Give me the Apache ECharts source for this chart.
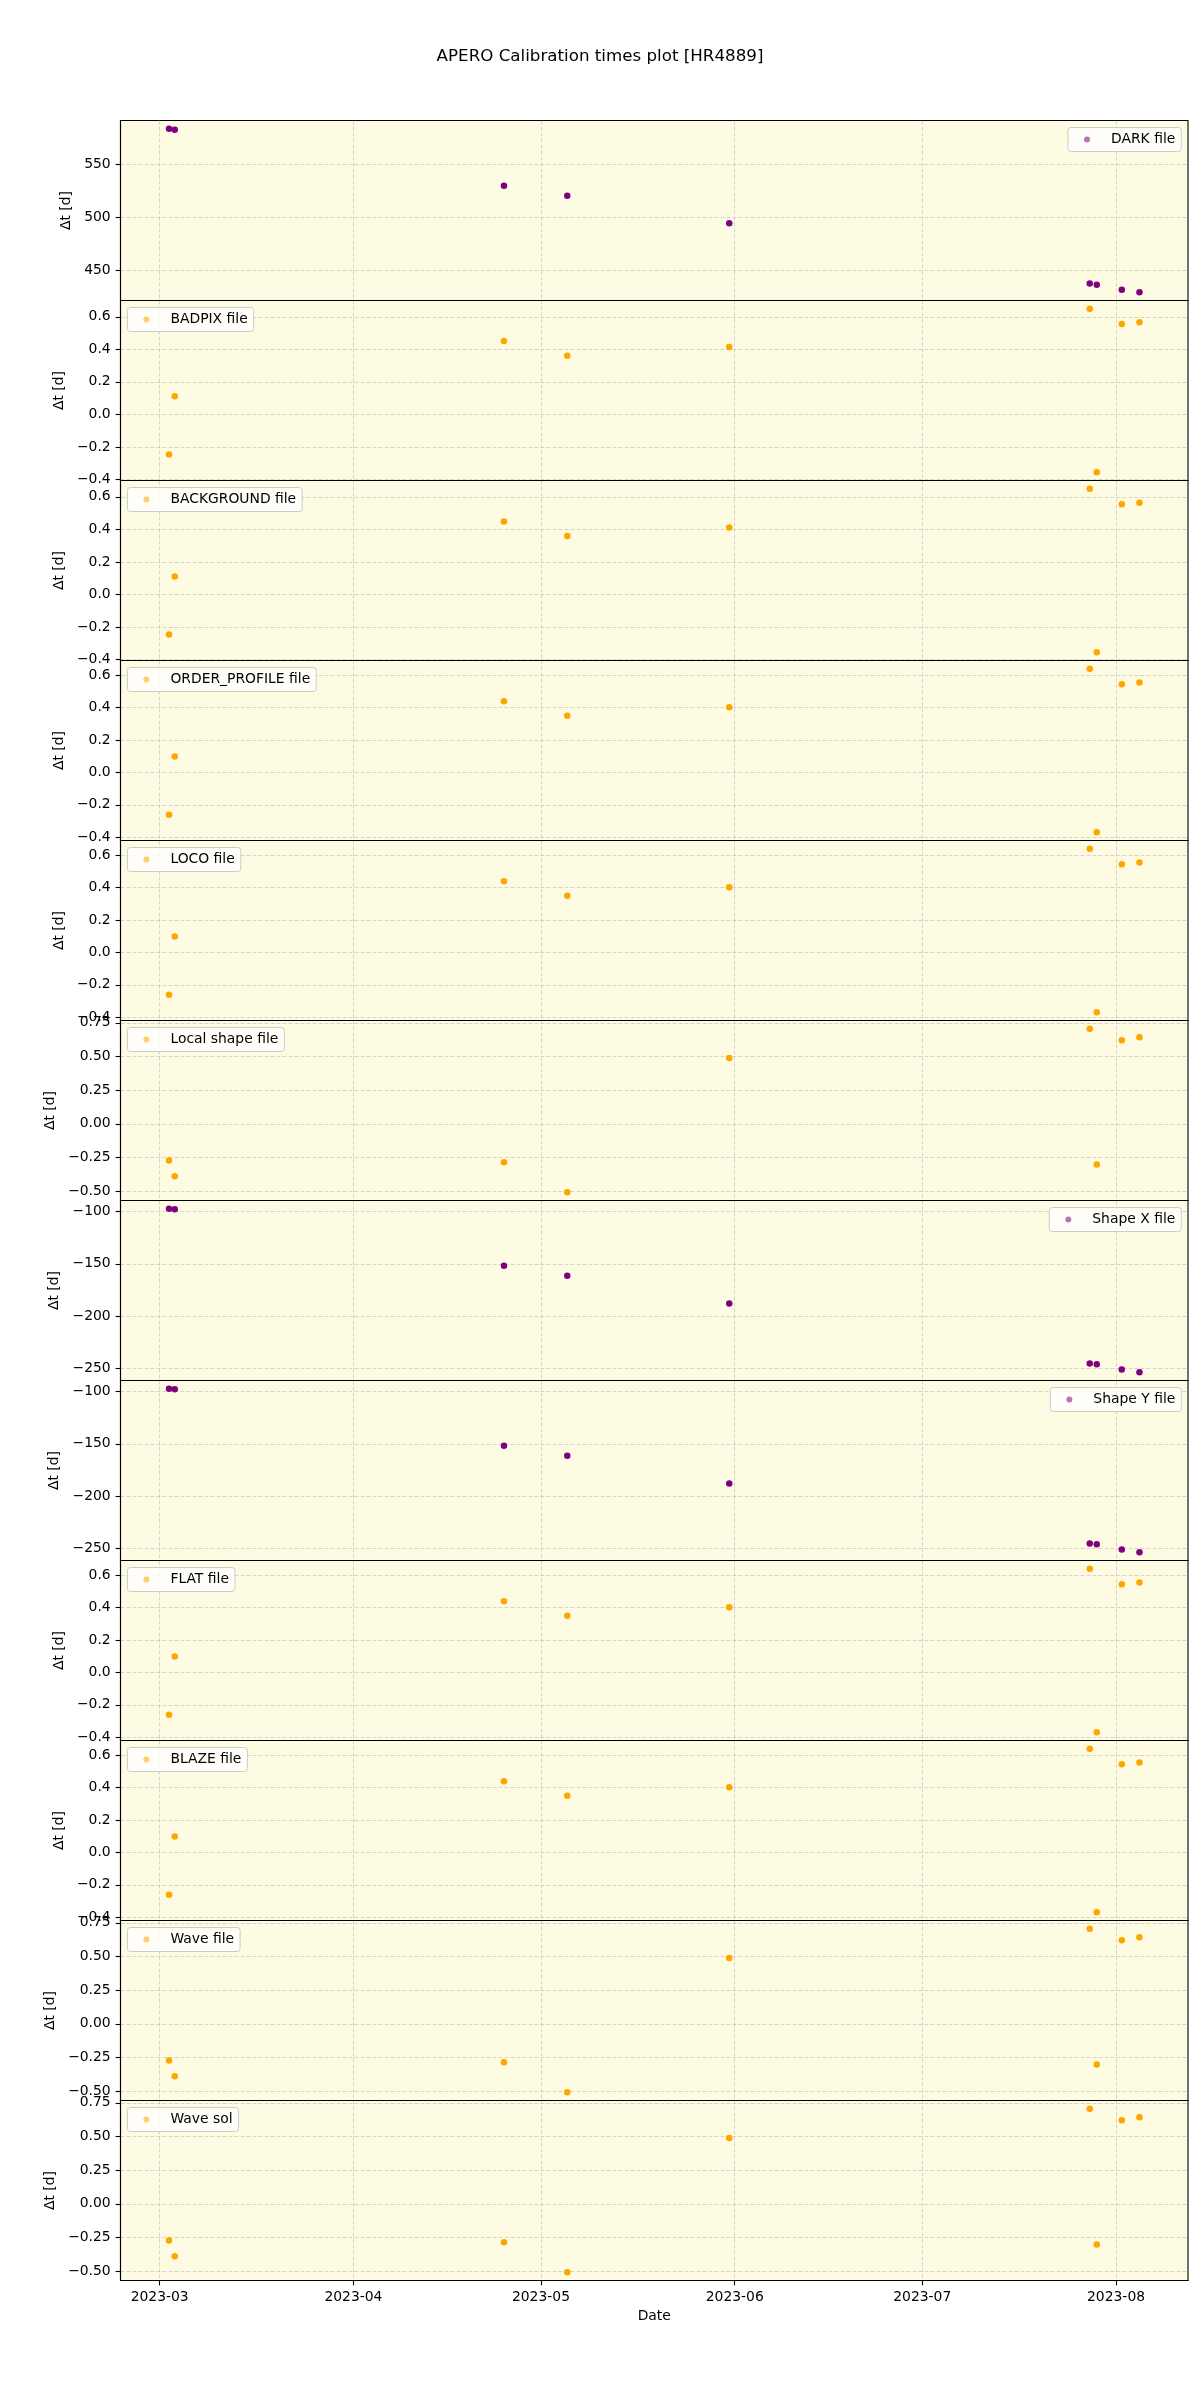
<!DOCTYPE html>
<html><head><meta charset="utf-8">
<script src="https://cdn.jsdelivr.net/npm/echarts@6/dist/echarts.min.js"></script>
<style>html,body{margin:0;padding:0;background:#fff}#c{width:1200px;height:2400px}</style>
</head><body><div id="c"></div><script>
// ---- data ----
const obsDates = ['2023-03-02T12:00','2023-03-03T10:00','2023-04-25T02:00','2023-05-05T05:00','2023-05-31T03:00','2023-07-27T19:00','2023-07-28T22:00','2023-08-01T22:00','2023-08-04T18:00'];
const darkFile = [584.2, 583.2, 530.1, 520.6, 494.3, 437.1, 436.1, 431.3, 428.8];
const badpixFile = [-0.247, 0.111, 0.451, 0.360, 0.414, 0.650, -0.356, 0.556, 0.566];
const backgroundFile = [-0.246, 0.111, 0.449, 0.360, 0.412, 0.650, -0.355, 0.554, 0.564];
const orderProfileFile = [-0.262, 0.099, 0.440, 0.350, 0.402, 0.641, -0.370, 0.545, 0.555];
const locoFile = [-0.262, 0.099, 0.440, 0.350, 0.402, 0.641, -0.370, 0.545, 0.555];
const localShapeFile = [-0.272, -0.389, -0.285, -0.508, 0.488, 0.706, -0.302, 0.620, 0.643];
const shapeXFile = [-97.5, -98.1, -151.9, -161.4, -187.9, -244.9, -245.8, -250.6, -253.4];
const shapeYFile = [-97.5, -98.1, -151.9, -161.4, -187.9, -244.9, -245.8, -250.6, -253.4];
const flatFile = [-0.262, 0.099, 0.440, 0.350, 0.402, 0.641, -0.370, 0.545, 0.555];
const blazeFile = [-0.262, 0.099, 0.440, 0.350, 0.402, 0.641, -0.370, 0.545, 0.555];
const waveFile = [-0.272, -0.389, -0.285, -0.508, 0.488, 0.706, -0.302, 0.620, 0.643];
const waveSol = [-0.272, -0.389, -0.285, -0.508, 0.488, 0.706, -0.302, 0.620, 0.643];

const monthTicks = ['2023-03-01T00:00','2023-04-01T00:00','2023-05-01T00:00','2023-06-01T00:00','2023-07-01T00:00','2023-08-01T00:00'];
const ticksDark = [450, 500, 550];
const ticksSmall = [-0.4, -0.2, 0.0, 0.2, 0.4, 0.6];
const ticksQuarter = [-0.5, -0.25, 0.0, 0.25, 0.5, 0.75];
const ticksShape = [-250, -200, -150, -100];

const titleText = 'APERO Calibration times plot [HR4889]';
const yName = 'Δt [d]';
const xName = 'Date';

// ---- styling / layout ----
const PURPLE = '#800080', ORANGE = '#FFA500';
const panels = [
  {name:'DARK file', data:darkFile, color:PURPLE, ticks:ticksDark, dec:0, side:'right', gap:46},
  {name:'BADPIX file', data:badpixFile, color:ORANGE, ticks:ticksSmall, dec:1, side:'left', gap:52},
  {name:'BACKGROUND file', data:backgroundFile, color:ORANGE, ticks:ticksSmall, dec:1, side:'left', gap:52},
  {name:'ORDER_PROFILE file', data:orderProfileFile, color:ORANGE, ticks:ticksSmall, dec:1, side:'left', gap:52},
  {name:'LOCO file', data:locoFile, color:ORANGE, ticks:ticksSmall, dec:1, side:'left', gap:52},
  {name:'Local shape file', data:localShapeFile, color:ORANGE, ticks:ticksQuarter, dec:2, side:'left', gap:61},
  {name:'Shape X file', data:shapeXFile, color:PURPLE, ticks:ticksShape, dec:0, side:'right', gap:56},
  {name:'Shape Y file', data:shapeYFile, color:PURPLE, ticks:ticksShape, dec:0, side:'right', gap:56},
  {name:'FLAT file', data:flatFile, color:ORANGE, ticks:ticksSmall, dec:1, side:'left', gap:52},
  {name:'BLAZE file', data:blazeFile, color:ORANGE, ticks:ticksSmall, dec:1, side:'left', gap:52},
  {name:'Wave file', data:waveFile, color:ORANGE, ticks:ticksQuarter, dec:2, side:'left', gap:61},
  {name:'Wave sol', data:waveSol, color:ORANGE, ticks:ticksQuarter, dec:2, side:'left', gap:61}
];
const FONT = 'DejaVu Sans';
const FS = 13.9;
const LEFT = 120.5, RIGHT = 1188, TOP0 = 120.5, PH = 180;

const ts = obsDates.map(s => new Date(s).getTime());
const monthTs = monthTicks.map(s => new Date(s).getTime());
const tMin = Math.min(...ts), tMax = Math.max(...ts);
const xLo = tMin - 0.05 * (tMax - tMin), xHi = tMax + 0.05 * (tMax - tMin);

const pad2 = n => (n < 10 ? '0' : '') + n;
const grid = [], xAxis = [], yAxis = [], series = [], legend = [];
const n = panels.length;
const splitStyle = {color: 'rgba(176,176,176,0.5)', type: [4, 2], width: 1};
panels.forEach((p, i) => {
  const top = TOP0 + i * PH;
  grid.push({left: LEFT, width: RIGHT - LEFT, top: top, height: PH, show: true,
    backgroundColor: '#FDFBE2', borderColor: '#000', borderWidth: 1.1, containLabel: false});
  const last = i === n - 1;
  xAxis.push({type: 'value', gridIndex: i, min: xLo, max: xHi, scale: true,
    name: last ? xName : '', nameLocation: 'middle', nameGap: 29,
    nameTextStyle: {fontFamily: FONT, fontSize: FS, color: '#000'},
    axisLine: {show: true, onZero: false, lineStyle: {color: '#000', width: 1.1}},
    axisTick: {show: last, length: 4.9, lineStyle: {color: '#000', width: 1.1}, customValues: monthTs},
    axisLabel: {show: last, margin: 10, fontFamily: FONT, fontSize: FS, color: '#000', customValues: monthTs,
      formatter: v => { const d = new Date(v); return d.getFullYear() + '-' + pad2(d.getMonth() + 1); }},
    splitLine: {show: true, lineStyle: splitStyle}
  });
  const lo = Math.min(...p.data), hi = Math.max(...p.data), m = 0.05 * (hi - lo);
  yAxis.push({type: 'value', gridIndex: i, min: lo - m, max: hi + m, scale: true,
    name: yName, nameLocation: 'middle', nameRotate: 90, nameGap: p.gap,
    nameTextStyle: {fontFamily: FONT, fontSize: FS, color: '#000'},
    axisLine: {show: true, onZero: false, lineStyle: {color: '#000', width: 1.1}},
    axisTick: {show: true, length: 4.9, lineStyle: {color: '#000', width: 1.1}, customValues: p.ticks},
    axisLabel: {show: true, margin: 9.8, fontFamily: FONT, fontSize: FS, color: '#000', customValues: p.ticks,
      formatter: v => v.toFixed(p.dec).replace('-', '\u2212')},
    splitLine: {show: true, lineStyle: splitStyle}
  });
  series.push({type: 'scatter', name: p.name, xAxisIndex: i, yAxisIndex: i,
    data: ts.map((t, j) => [t, p.data[j]]), symbol: 'circle', symbolSize: 6.5,
    itemStyle: {color: p.color, opacity: 1}, silent: true, z: 3});
  const alphaCol = p.color === PURPLE ? 'rgba(128,0,128,0.55)' : 'rgba(255,165,0,0.55)';
  const lg = {show: true, data: [p.name], selectedMode: false, orient: 'horizontal',
    top: top + 7, icon: 'circle', itemWidth: 6, itemHeight: 6,
    padding: [5, 6, 5, 16], backgroundColor: 'rgba(255,255,255,0.8)', borderColor: '#cccccc',
    borderWidth: 1, borderRadius: 3,
    textStyle: {fontFamily: FONT, fontSize: FS, color: '#000', padding: [0, 0, 0, 16]},
    itemStyle: {color: alphaCol}};
  if (p.side === 'left') lg.left = 127.4; else lg.right = 1200 - 1181.3;
  legend.push(lg);
});

const chart = echarts.init(document.getElementById('c'), null, {renderer: 'canvas'});
chart.setOption({
  animation: false,
  backgroundColor: '#ffffff',
  title: {text: titleText, left: 'center', top: 43,
    textStyle: {fontFamily: FONT, fontSize: 16.7, fontWeight: 'normal', color: '#000'}},
  grid, xAxis, yAxis, series, legend
});
</script></body></html>
